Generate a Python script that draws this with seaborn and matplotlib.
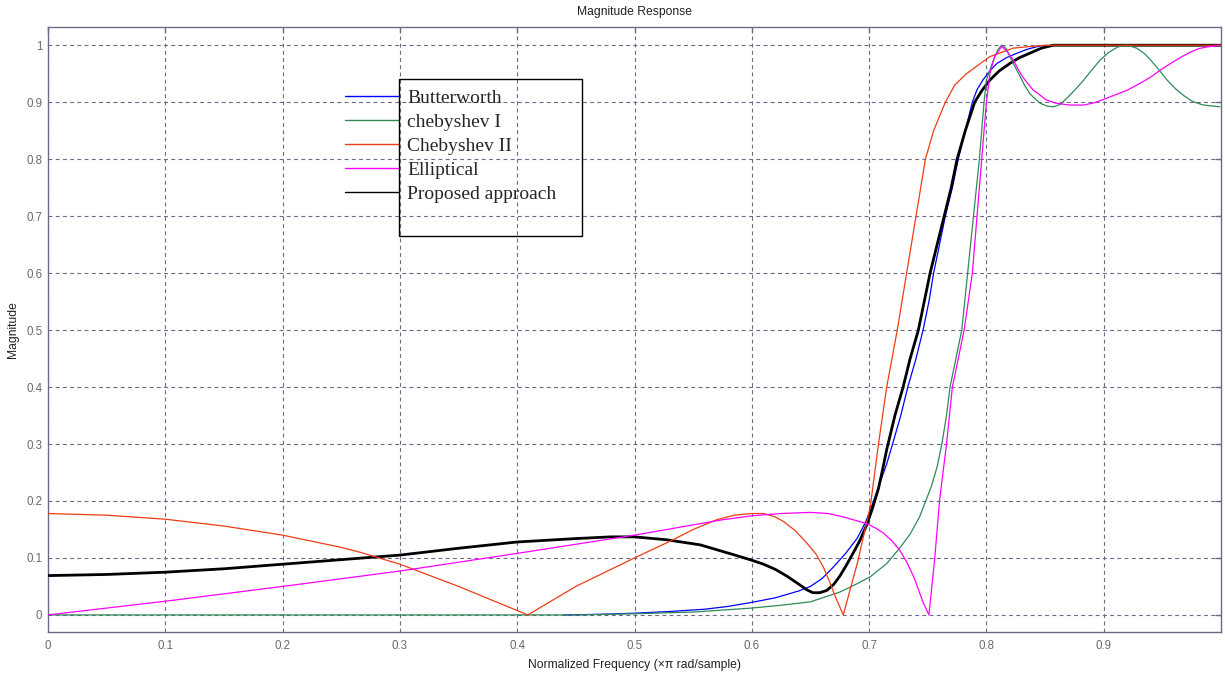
import numpy as np
import pandas as pd
import matplotlib
matplotlib.use("Agg")
import matplotlib.pyplot as plt
from matplotlib.lines import Line2D
from matplotlib.patches import Rectangle
import seaborn as sns

# ---------------- data ----------------
bw_x = [0.44, 0.47, 0.50, 0.53, 0.56, 0.58, 0.60, 0.62, 0.64, 0.65, 0.66, 0.67, 0.68, 0.69,
        0.697, 0.703, 0.709, 0.715, 0.72, 0.727, 0.733, 0.74, 0.746, 0.751, 0.755, 0.760,
        0.765, 0.771, 0.776, 0.782, 0.788, 0.792, 0.797, 0.803, 0.809, 0.817, 0.826, 0.835,
        0.846, 0.87, 0.90, 0.95, 1.0]
bw_y = [0.0, 0.001, 0.003, 0.006, 0.010, 0.015, 0.022, 0.030, 0.042, 0.050, 0.064, 0.085, 0.108, 0.135,
        0.163, 0.195, 0.23, 0.265, 0.30, 0.35, 0.40, 0.45, 0.50, 0.55, 0.60, 0.65,
        0.70, 0.75, 0.80, 0.85, 0.90, 0.922, 0.939, 0.955, 0.968, 0.978, 0.986, 0.993,
        0.999, 1.0, 1.0, 1.0, 1.0]

ch1_x = [0.0, 0.45, 0.50, 0.55, 0.60, 0.625, 0.65, 0.675, 0.69, 0.701, 0.715, 0.726, 0.735, 0.743,
         0.753, 0.758, 0.762, 0.766, 0.769, 0.774, 0.779, 0.784, 0.789, 0.794, 0.798, 0.800,
         0.806, 0.810, 0.813, 0.817, 0.820, 0.825, 0.829, 0.833, 0.837, 0.842, 0.846, 0.852,
         0.857, 0.863, 0.871, 0.877, 0.883, 0.890, 0.897, 0.904, 0.912, 0.920, 0.928, 0.935,
         0.940, 0.947, 0.954, 0.961, 0.968, 0.976, 0.985, 0.999]
ch1_y = [0.0, 0.0, 0.002, 0.005, 0.012, 0.017, 0.023, 0.040, 0.055, 0.067, 0.090, 0.117, 0.142, 0.172,
         0.225, 0.26, 0.30, 0.35, 0.40, 0.45, 0.50, 0.60, 0.70, 0.80, 0.90, 0.939,
         0.974, 0.993, 1.0, 0.994, 0.98, 0.96, 0.944, 0.928, 0.915, 0.905, 0.898, 0.893,
         0.892, 0.896, 0.912, 0.925, 0.939, 0.957, 0.974, 0.987, 0.997, 1.0, 0.995, 0.985,
         0.974, 0.957, 0.939, 0.924, 0.912, 0.901, 0.895, 0.892]

ch2_x = [0.0, 0.05, 0.1, 0.15, 0.2, 0.249, 0.266, 0.3, 0.35, 0.409, 0.45, 0.5, 0.533, 0.55, 0.57,
         0.585, 0.6, 0.61, 0.62, 0.627, 0.637, 0.647, 0.655, 0.661, 0.666, 0.671, 0.678, 0.69,
         0.701, 0.708, 0.715, 0.724, 0.728, 0.732, 0.736, 0.740, 0.744, 0.748, 0.755, 0.765,
         0.773, 0.783, 0.803, 0.823, 0.85, 0.9, 1.0]
ch2_y = [0.178, 0.175, 0.168, 0.156, 0.14, 0.119, 0.110, 0.089, 0.05, 0.0, 0.05, 0.1, 0.132, 0.15, 0.167,
         0.175, 0.178, 0.178, 0.172, 0.164, 0.148, 0.126, 0.106, 0.084, 0.06, 0.033, 0.0, 0.091,
         0.19, 0.30, 0.40, 0.50, 0.55, 0.60, 0.65, 0.70, 0.75, 0.80, 0.85, 0.90,
         0.93, 0.95, 0.98, 0.995, 1.0, 1.0, 1.0]

ell_x = [0.0, 0.1, 0.2, 0.3, 0.4, 0.5, 0.55, 0.575, 0.6, 0.625, 0.65, 0.665, 0.678, 0.69, 0.698,
         0.705, 0.712, 0.719, 0.726, 0.732, 0.738, 0.742, 0.746, 0.751, 0.756, 0.76, 0.766,
         0.771, 0.776, 0.781, 0.788, 0.792, 0.796, 0.800, 0.803, 0.807, 0.813, 0.818, 0.823,
         0.827, 0.831, 0.836, 0.840, 0.846, 0.851, 0.86, 0.871, 0.883, 0.892, 0.9, 0.91, 0.92,
         0.93, 0.94, 0.948, 0.957, 0.965, 0.974, 0.981, 0.988, 0.999]
ell_y = [0.0, 0.024, 0.05, 0.077, 0.108, 0.14, 0.158, 0.167, 0.174, 0.178, 0.18, 0.178, 0.172, 0.165, 0.16,
         0.153, 0.144, 0.131, 0.114, 0.093, 0.067, 0.045, 0.022, 0.0, 0.1, 0.2, 0.3,
         0.4, 0.45, 0.5, 0.6, 0.7, 0.8, 0.9, 0.95, 0.98, 0.998, 0.988, 0.974,
         0.958, 0.944, 0.931, 0.921, 0.912, 0.904, 0.898, 0.895, 0.895, 0.899, 0.905, 0.913, 0.921,
         0.932, 0.944, 0.956, 0.968, 0.978, 0.988, 0.994, 0.997, 1.0]

prop_x = [0.0, 0.05, 0.1, 0.15, 0.2, 0.25, 0.3, 0.35, 0.4, 0.45, 0.48, 0.5, 0.527, 0.556, 0.584,
          0.6, 0.61, 0.62, 0.63, 0.64, 0.647, 0.652, 0.658, 0.664, 0.67, 0.675, 0.68, 0.686,
          0.692, 0.698, 0.703, 0.708, 0.712, 0.715, 0.722, 0.729, 0.735, 0.742, 0.747, 0.752,
          0.758, 0.764, 0.770, 0.775, 0.782, 0.790, 0.796, 0.803, 0.811, 0.82, 0.828, 0.837,
          0.847, 0.857, 0.9, 0.95, 1.0]
prop_y = [0.069, 0.071, 0.075, 0.081, 0.089, 0.097, 0.105, 0.117, 0.128, 0.134, 0.137, 0.137, 0.132, 0.123, 0.106,
          0.096, 0.089, 0.080, 0.068, 0.054, 0.044, 0.039, 0.039, 0.043, 0.054, 0.068, 0.085, 0.107,
          0.13, 0.158, 0.188, 0.222, 0.26, 0.29, 0.35, 0.40, 0.45, 0.50, 0.55, 0.60,
          0.65, 0.70, 0.75, 0.80, 0.85, 0.90, 0.92, 0.939, 0.955, 0.968, 0.978, 0.986,
          0.995, 1.0, 1.0, 1.0, 1.0]

labels = ["Butterworth", "chebyshev I", "Chebyshev II", "Elliptical", "Proposed approach"]
colors = ["#0000ff", "#2e8b57", "#f03c14", "#ff00ff", "#000000"]
xticks = [0, 0.1, 0.2, 0.3, 0.4, 0.5, 0.6, 0.7, 0.8, 0.9]
xticklabels = ["0", "0.1", "0.2", "0.3", "0.4", "0.5", "0.6", "0.7", "0.8", "0.9"]
yticks = [0, 0.1, 0.2, 0.3, 0.4, 0.5, 0.6, 0.7, 0.8, 0.9, 1.0]
yticklabels = ["0", "0.1", "0.2", "0.3", "0.4", "0.5", "0.6", "0.7", "0.8", "0.9", "1"]

# ---------------- style ----------------
sns.set_theme(style="white")
plt.rcParams["font.family"] = ["Liberation Sans", "DejaVu Sans"]

frame_col = "#6b6b88"
fig = plt.figure(figsize=(12.25, 6.76), dpi=100)
ax = fig.add_axes([48 / 1225, 44 / 676, 1173 / 1225, 605 / 676])

series = [(bw_x, bw_y), (ch1_x, ch1_y), (ch2_x, ch2_y), (ell_x, ell_y), (prop_x, prop_y)]
widths = [0.9, 0.9, 0.9, 0.9, 2.0]
zorders = [2, 4, 5, 6, 3]
for (xs, ys), lab, col, lw, zo in zip(series, labels, colors, widths, zorders):
    df = pd.DataFrame({"f": xs, "m": ys})
    sns.lineplot(data=df, x="f", y="m", ax=ax, color=col, linewidth=lw, zorder=zo,
                 sort=False, estimator=None, legend=False)

ax.set_xlim(0, 1.0)
ax.set_ylim(-0.03, 1.032)
ax.set_xticks(xticks)
ax.set_xticklabels(xticklabels)
ax.set_yticks(yticks)
ax.set_yticklabels(yticklabels)
ax.grid(True, linestyle=(0, (3.5, 3)), color=frame_col, linewidth=0.8)
ax.set_axisbelow(True)
for s in ax.spines.values():
    s.set_color(frame_col)
    s.set_linewidth(1.0)
ax.tick_params(direction="in", length=4, width=1, top=True, right=True, color=frame_col,
               labelsize=8.3, labelcolor="#6a6a6a", pad=6)
ax.tick_params(axis="y", pad=4)

ax.set_title("Magnitude Response", fontsize=8.7, pad=9, color="#222222")
ax.set_xlabel("Normalized Frequency (\u00d7\u03c0 rad/sample)", fontsize=8.7, labelpad=5, color="#222222")
ax.set_ylabel("Magnitude", fontsize=8.7, labelpad=5, color="#222222")

# legend (handles sit outside the framed box, as in the reference)
handles = [Line2D([], [], color=c, linewidth=1.0) for c in colors]
ax.legend(handles, labels, loc="upper left", bbox_to_anchor=(0.253, 0.897), frameon=False,
          prop={"family": "Liberation Serif", "size": 14}, handlelength=2.75,
          handletextpad=0.45, labelspacing=0.33, borderpad=0, borderaxespad=0)
ax.add_patch(Rectangle((0.299, 0.6545), 0.156, 0.2595, transform=ax.transAxes,
                       fill=False, edgecolor="black", linewidth=1.0, zorder=10))

fig.savefig("out.png", dpi=100, facecolor="white")
